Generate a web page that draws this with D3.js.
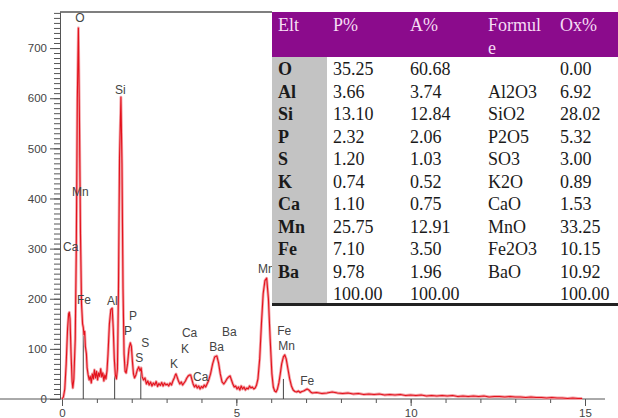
<!DOCTYPE html>
<html>
<head>
<meta charset="utf-8">
<script src="https://cdn.jsdelivr.net/npm/d3@7"></script>
<style>
  body { margin: 0; background: #fff; }
  svg { display: block; }
  .axis text { font-family: "Liberation Sans", Arial, sans-serif; font-size: 11.5px; fill: #444; }
  .axis line, .axis path { stroke: #555; }
  .peak { font-family: "Liberation Sans", Arial, sans-serif; font-size: 12px; fill: #444; }
  .tbl { font-family: "Liberation Serif", "Times New Roman", serif; font-size: 18px; fill: #1a1a1a; }
</style>
</head>
<body>
<div id="chart"></div>
<script>
(function () {

// EDS spectrum: [keV, counts]
var spectrum = [
  [0.00,0],[0.04,4],[0.08,20],[0.12,70],[0.16,140],[0.19,170],[0.21,173],[0.23,160],[0.26,90],
  [0.29,35],[0.31,22],[0.34,40],[0.38,120],[0.41,300],[0.44,600],[0.47,740],[0.50,560],[0.53,330],
  [0.56,190],[0.59,150],[0.61,143],[0.63,128],[0.65,135],[0.67,105],[0.70,90],[0.72,62],[0.75,48],
  [0.78,38],[0.81,45],[0.84,32],[0.87,50],[0.90,40],[0.93,58],[0.96,42],[0.99,55],[1.02,38],
  [1.05,52],[1.08,45],[1.11,60],[1.14,44],[1.17,52],[1.20,36],[1.23,48],[1.26,40],[1.29,56],
  [1.32,90],[1.36,150],[1.40,178],[1.44,181],[1.47,140],[1.50,80],[1.53,48],[1.56,40],[1.59,60],
  [1.62,220],[1.65,480],[1.69,602],[1.72,470],[1.75,220],[1.78,90],[1.81,55],[1.84,52],[1.88,70],
  [1.92,100],[1.96,112],[1.99,105],[2.02,75],[2.05,50],[2.08,42],[2.12,48],[2.16,58],[2.20,64],
  [2.24,56],[2.27,62],[2.30,44],[2.34,38],[2.38,42],[2.42,30],[2.46,36],[2.50,28],[2.54,34],
  [2.58,26],[2.62,32],[2.66,28],[2.70,35],[2.74,25],[2.78,31],[2.82,27],[2.86,33],[2.90,26],
  [2.94,32],[2.98,28],[3.02,30],[3.06,26],[3.10,32],[3.14,28],[3.18,36],[3.22,42],[3.25,48],
  [3.27,50],[3.30,44],[3.34,36],[3.38,30],[3.42,34],[3.46,28],[3.50,32],[3.54,36],[3.58,42],
  [3.62,46],[3.66,48],[3.69,48],[3.72,40],[3.76,30],[3.80,24],[3.84,28],[3.88,22],[3.92,26],
  [3.96,20],[4.00,25],[4.04,22],[4.08,28],[4.12,24],[4.16,30],[4.20,36],[4.26,50],[4.32,70],
  [4.38,84],[4.44,86],[4.49,72],[4.54,50],[4.59,34],[4.64,30],[4.68,34],[4.73,40],[4.78,44],
  [4.82,46],[4.86,38],[4.90,30],[4.94,24],[4.98,26],[5.02,20],[5.06,24],[5.10,18],[5.14,26],
  [5.18,20],[5.22,24],[5.26,18],[5.30,22],[5.34,20],[5.38,26],[5.42,22],[5.46,24],[5.50,20],
  [5.54,22],[5.58,28],[5.62,40],[5.67,80],[5.72,150],[5.77,210],[5.82,236],[5.87,241],[5.92,200],
  [5.97,120],[6.02,50],[6.06,24],[6.10,16],[6.14,14],[6.18,20],[6.22,32],[6.26,50],[6.30,70],
  [6.35,84],[6.39,88],[6.43,80],[6.48,60],[6.53,40],[6.58,26],[6.63,18],[6.68,15],[6.73,14],
  [6.78,16],[6.83,13],[6.88,15],[6.93,16],[6.98,18],[7.03,20],[7.08,18],[7.13,14],[7.18,12],
  [7.30,13],[7.45,11],[7.60,12],[7.75,14],[7.90,12],[8.05,11],[8.20,12],[8.35,10],[8.50,11],
  [8.65,9],[8.80,10],[8.95,9],[9.10,10],[9.25,8],[9.40,9],[9.55,8],[9.70,9],[9.85,7],
  [10.00,8],[10.15,7],[10.30,8],[10.45,6],[10.60,7],[10.75,6],[10.90,7],[11.05,6],[11.20,7],
  [11.35,5],[11.50,6],[11.65,5],[11.80,6],[11.95,5],[12.10,6],[12.25,4],[12.40,5],[12.55,5],
  [12.70,4],[12.85,5],[13.00,4],[13.15,4],[13.30,3],[13.45,4],[13.60,3],[13.75,3],[13.90,2],
  [14.05,3],[14.20,2],[14.35,2],[14.50,1],[14.65,2],[14.80,1],[14.92,1]
];

// element marker lines [keV, counts]
var markers = [[0.61,140],[1.51,50],[2.26,64],[6.35,40]];

// peak labels: text, keV of left edge, counts of baseline
var peakLabels = [
  ["O",0.38,752],["Si",1.52,608],["Mn",0.29,405],["Ca",0.03,295],["Fe",0.43,190],
  ["Al",1.29,188],["P",1.92,157],["P",1.78,128],["S",2.27,104],["S",2.10,74],
  ["K",3.10,62],["K",3.41,92],["Ca",3.44,124],["Ca",3.76,36],["Ba",4.22,96],["Ba",4.59,126],
  ["Mn",5.62,251],["Fe",6.17,128],["Mn",6.20,98],["Fe",6.83,28]
];

var xTicks = [0, 5, 10, 15];
var yTicks = [0, 100, 200, 300, 400, 500, 600, 700];

// table
var tableHead = ["Elt", "P%", "A%", "Formul", "Ox%"];
var elements = ["O","Al","Si","P","S","K","Ca","Mn","Fe","Ba",""];
var weightPct = ["35.25","3.66","13.10","2.32","1.20","0.74","1.10","25.75","7.10","9.78","100.00"];
var atomicPct = ["60.68","3.74","12.84","2.06","1.03","0.52","0.75","12.91","3.50","1.96","100.00"];
var formulas = ["","Al2O3","SiO2","P2O5","SO3","K2O","CaO","MnO","Fe2O3","BaO",""];
var oxidePct = ["0.00","6.92","28.02","5.32","3.00","0.89","1.53","33.25","10.15","10.92","100.00"];

var width = 618, height = 418;

var svg = d3.select("#chart").append("svg")
    .attr("width", width)
    .attr("height", height);

var x = d3.scaleLinear().domain([0, 15]).range([62, 585]);
var y = d3.scaleLinear().domain([0, 700]).range([399, 48]);
var yTop = 772;

// y axis, minor ticks every 10
svg.append("g").attr("class", "axis")
    .attr("transform", "translate(60,0)")
    .call(d3.axisLeft(y).tickValues(d3.range(0, yTop, 10)).tickSize(6).tickFormat(""))
    .call(function (g) { g.select(".domain").remove(); });

svg.append("g").attr("class", "axis")
    .attr("transform", "translate(60,0)")
    .call(d3.axisLeft(y.copy().domain([0, yTop]).range([399, 12])).tickValues(yTicks).tickSize(10).tickSizeOuter(0).tickPadding(3));

// x axis
svg.append("g").attr("class", "axis")
    .attr("transform", "translate(0,399)")
    .call(d3.axisBottom(x).tickValues(d3.range(0, 16, 1)).tickSize(4).tickFormat(""))
    .call(function (g) { g.select(".domain").remove(); });

svg.append("g").attr("class", "axis")
    .attr("transform", "translate(0,399)")
    .call(d3.axisBottom(x).tickValues(xTicks).tickSize(7).tickSizeOuter(0).tickPadding(3))
    .call(function (g) { g.select(".domain").attr("d", "M-2,0H605"); });

// top frame line
svg.append("line")
    .attr("x1", 60).attr("x2", 272)
    .attr("y1", y(yTop)).attr("y2", y(yTop))
    .attr("stroke", "#555").attr("stroke-width", 1.5);

// marker lines
svg.selectAll(".marker").data(markers).enter().append("line")
    .attr("class", "marker")
    .attr("x1", function (d) { return x(d[0]); })
    .attr("x2", function (d) { return x(d[0]); })
    .attr("y1", y(0))
    .attr("y2", function (d) { return y(d[1]); })
    .attr("stroke", "#444").attr("stroke-width", 1);

var line = d3.line()
    .x(function (d) { return x(d[0]); })
    .y(function (d) { return y(d[1]); });

svg.append("path").datum(spectrum)
    .attr("d", line)
    .attr("fill", "none")
    .attr("stroke", "#f3a3a8")
    .attr("stroke-width", 2.8)
    .attr("stroke-linejoin", "round");

svg.append("path").datum(spectrum)
    .attr("d", line)
    .attr("fill", "none")
    .attr("stroke", "#e3121c")
    .attr("stroke-width", 1.1)
    .attr("stroke-linejoin", "round");

svg.selectAll(".peak").data(peakLabels).enter().append("text")
    .attr("class", "peak")
    .attr("x", function (d) { return x(d[1]); })
    .attr("y", function (d) { return y(d[2]); })
    .text(function (d) { return d[0]; });

// composition table, drawn over the chart
var tx = 272, tTop = 12, headBottom = 57, rowH = 22.5, tRight = 618;
var colX = [278, 333, 410, 488, 560];
var tbl = svg.append("g");

tbl.append("rect")
    .attr("x", tx).attr("y", tTop)
    .attr("width", tRight - tx).attr("height", 305 - tTop)
    .attr("fill", "#fff");
tbl.append("rect")
    .attr("x", tx).attr("y", tTop)
    .attr("width", tRight - tx).attr("height", headBottom - tTop)
    .attr("fill", "#8b0b8c");
tbl.append("rect")
    .attr("x", tx).attr("y", headBottom)
    .attr("width", 327 - tx).attr("height", 304 - headBottom)
    .attr("fill", "#c3c3c3");

tbl.selectAll(".head").data(tableHead).enter().append("text")
    .attr("class", "tbl head")
    .attr("x", function (d, i) { return colX[i]; })
    .attr("y", 31)
    .style("fill", "#f6dcf4")
    .text(function (d) { return d; });
tbl.append("text")
    .attr("class", "tbl")
    .attr("x", colX[3]).attr("y", 54)
    .style("fill", "#f6dcf4")
    .text("e");

var columns = [elements, weightPct, atomicPct, formulas, oxidePct];
columns.forEach(function (col, c) {
  tbl.selectAll(".c" + c).data(col).enter().append("text")
      .attr("class", "tbl c" + c)
      .attr("x", colX[c])
      .attr("y", function (d, i) { return 75 + i * rowH; })
      .style("font-weight", c === 0 ? "bold" : null)
      .text(function (d) { return d; });
});

tbl.append("line")
    .attr("x1", tx).attr("x2", tRight)
    .attr("y1", 304.5).attr("y2", 304.5)
    .attr("stroke", "#222").attr("stroke-width", 3);

})();
</script>
</body>
</html>
